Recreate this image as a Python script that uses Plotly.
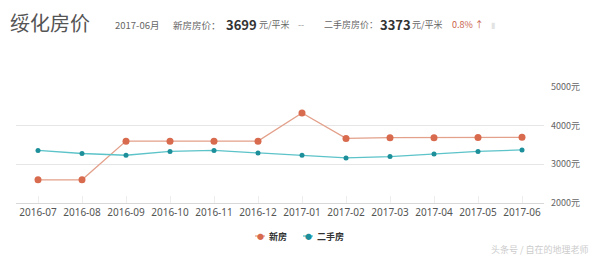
import plotly.graph_objects as go

months = ["2016-07", "2016-08", "2016-09", "2016-10", "2016-11", "2016-12",
          "2017-01", "2017-02", "2017-03", "2017-04", "2017-05", "2017-06"]
new_house = [2600, 2600, 3600, 3600, 3600, 3600, 4330, 3670, 3690, 3690, 3695, 3699]
second_hand = [3360, 3280, 3235, 3335, 3360, 3290, 3235, 3165, 3200, 3265, 3335, 3373]
y_ticks = [2000, 3000, 4000, 5000]
y_tick_text = [f"{v}元" for v in y_ticks]
series_names = ["新房", "二手房"]
line_colors = ["#e3a08a", "#5cc3c9"]
marker_colors = ["#d86a4e", "#1d8f9a"]

FONT = "Noto Sans CJK SC"
L, R, T, B = 16, 544, 87, 203


def px(x):
    return (x - L) / (R - L)


def py(y):
    return (B - y) / (B - T)


fig = go.Figure()
for name, vals, lc, mc, ms in zip(series_names, [new_house, second_hand],
                                  line_colors, marker_colors, [7, 5]):
    fig.add_trace(go.Scatter(
        x=months, y=vals, name=name, mode="lines+markers",
        line=dict(color=lc, width=1.3),
        marker=dict(color=mc, size=ms),
    ))

fig.update_layout(
    width=600, height=257,
    margin=dict(l=L, r=600 - R, t=T, b=257 - B),
    paper_bgcolor="white", plot_bgcolor="white",
    font=dict(family=FONT, color="#555"),
    showlegend=False,
    xaxis=dict(type="category", range=[-0.5, 11.5], showgrid=False,
               showline=True, linecolor="#d8d8d8", linewidth=1,
               ticks="inside", ticklen=7, tickcolor="#eeeeee",
               tickfont=dict(size=10, color="#555", family="Noto Sans"),
               zeroline=False, fixedrange=True),
    yaxis=dict(range=[2000, 5000], tickvals=y_ticks, ticktext=y_tick_text, side="right",
               showgrid=True, gridcolor="#e6e6e6", gridwidth=1, zeroline=False,
               tickfont=dict(size=9, color="#666", family=FONT), showline=False,
               ticklabelstandoff=6),
)


def ann(text, x, y, size, color, bold=False, anchor="left"):
    fig.add_annotation(text=f"<b>{text}</b>" if bold else text, x=px(x), y=py(y),
                       xref="paper", yref="paper", xanchor=anchor, yanchor="middle",
                       showarrow=False, font=dict(size=size, color=color, family=FONT))


# header
ann("绥化房价", 8, 22, 20, "#555")
ann("2017-06月", 113, 25, 9.5, "#666")
ann("新房房价：", 171, 25, 9.5, "#666")
ann("3699", 224, 24, 13, "#333", bold=True)
ann("元/平米", 257, 25, 9, "#666")
ann("--", 296, 25, 9, "#999")
ann("二手房房价：", 322, 25, 9, "#666")
ann("3373", 378, 24, 13, "#333", bold=True)
ann("元/平米", 410, 25, 9, "#666")
ann("0.8% ↑", 450, 25, 9, "#c9624a")
ann("▮", 489, 25, 8, "#e3e3e3")

# legend (manual, compact)
legend_x = [255, 303]
for name, lx, lc, mc in zip(series_names, legend_x, line_colors, marker_colors):
    fig.add_shape(type="line", xref="paper", yref="paper",
                  x0=px(lx), x1=px(lx + 10), y0=py(236), y1=py(236),
                  line=dict(color=lc, width=1.3))
    ann("●", lx + 5, 236, 7, mc, anchor="center")
    ann(name, lx + 12, 236, 9, "#333", bold=True)

ann("头条号 / 自在的地理老师", 489, 249, 9, "#cccccc")

fig.write_html("out.html")
